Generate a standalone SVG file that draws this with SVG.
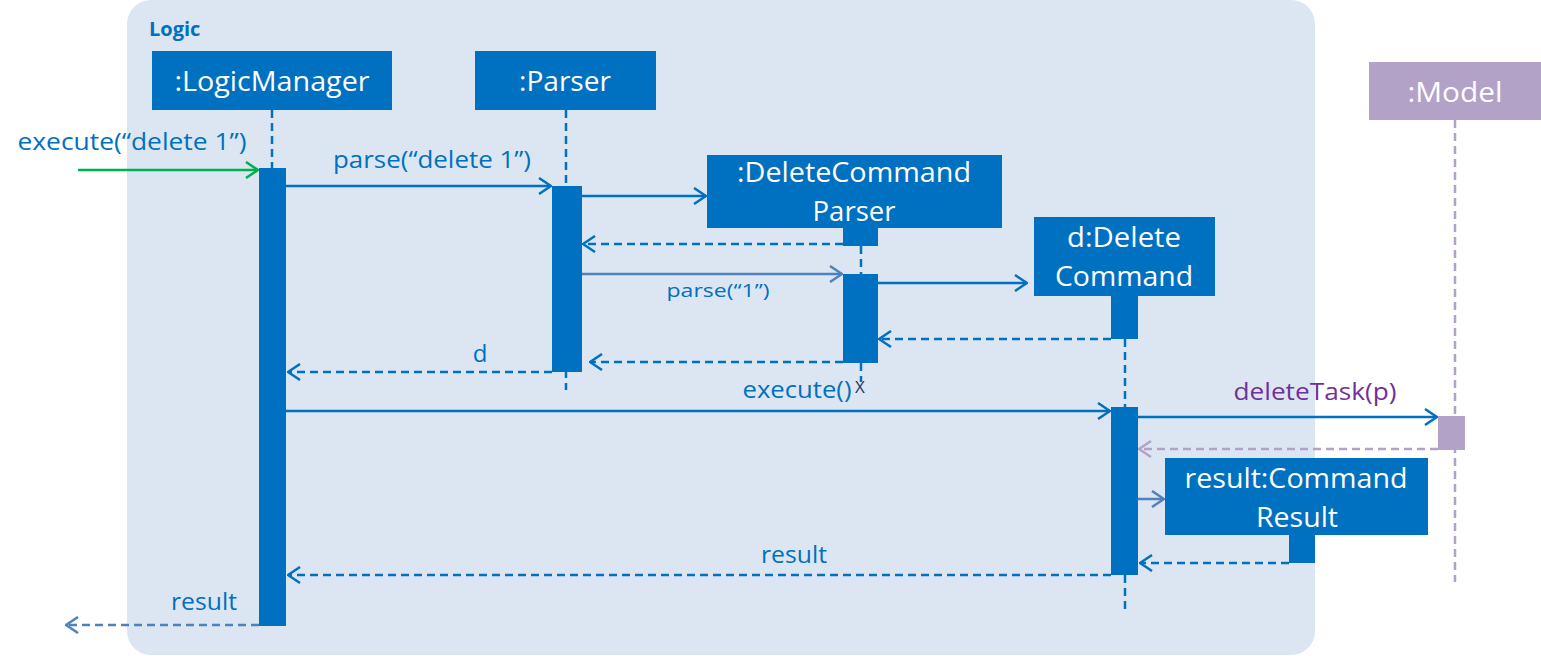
<svg xmlns="http://www.w3.org/2000/svg" width="1541" height="656" viewBox="0 0 1541 656">
<defs>
<style>
.t{font-family:"Open Sans","Noto Sans","Liberation Sans",sans-serif;}
.box{fill:#0070c0;}
.btxt{fill:#ffffff;font-size:28px;text-anchor:middle;}
.lbl{fill:#0070c0;font-size:24px;text-anchor:middle;}
.life{stroke:#0070c0;stroke-width:2.5;stroke-dasharray:8 5;fill:none;}
.msg{stroke:#0070c0;stroke-width:2.5;fill:none;}
.ret{stroke:#0070c0;stroke-width:2.5;stroke-dasharray:8 5;fill:none;}
.act{fill:#0070c0;}
</style>
<marker id="ah" viewBox="0 0 14 18" refX="13" refY="9" markerWidth="14" markerHeight="18" markerUnits="userSpaceOnUse" orient="auto">
<path d="M1,1 L13,9 L1,17" fill="none" stroke="#0070c0" stroke-width="2.5"/>
</marker>
<marker id="ahg" viewBox="0 0 14 18" refX="13" refY="9" markerWidth="14" markerHeight="18" markerUnits="userSpaceOnUse" orient="auto">
<path d="M1,1 L13,9 L1,17" fill="none" stroke="#00b050" stroke-width="2.5"/>
</marker>
<marker id="ahs" viewBox="0 0 14 18" refX="13" refY="9" markerWidth="14" markerHeight="18" markerUnits="userSpaceOnUse" orient="auto">
<path d="M1,1 L13,9 L1,17" fill="none" stroke="#4f81bd" stroke-width="2.5"/>
</marker>
<marker id="ahp" viewBox="0 0 14 18" refX="13" refY="9" markerWidth="14" markerHeight="18" markerUnits="userSpaceOnUse" orient="auto">
<path d="M1,1 L13,9 L1,17" fill="none" stroke="#b3a2c7" stroke-width="2.5"/>
</marker>
</defs>
<rect width="1541" height="656" fill="#ffffff"/>
<g id="logic-frame">
<rect x="127" y="0" width="1188" height="655" rx="24" fill="#dce6f2"/>
<text class="t" x="149" y="36" font-size="20" font-weight="bold" fill="#0070c0">Logic</text>
</g>
<g id="lifelines">
<line class="life" x1="272" y1="110" x2="272" y2="168"/>
<line class="life" x1="566" y1="110" x2="566" y2="390"/>
<line class="life" x1="861" y1="246" x2="861" y2="274"/>
<line class="life" x1="861" y1="363" x2="861" y2="382"/>
<line class="life" x1="1125" y1="339" x2="1125" y2="407"/>
<line class="life" x1="1125" y1="575" x2="1125" y2="614"/>
<line x1="1455" y1="120" x2="1455" y2="582" stroke="#b3a2c7" stroke-width="2.5" stroke-dasharray="8 5"/>
</g>
<g id="logicmanager">
<rect class="box" x="152" y="51" width="240" height="59"/>
<text class="t btxt" x="272" y="91" textLength="195" lengthAdjust="spacingAndGlyphs">:LogicManager</text>
<rect class="act" x="259" y="168" width="27" height="458"/>
</g>
<g id="parser">
<rect class="box" x="475" y="51" width="181" height="59"/>
<text class="t btxt" x="565" y="91" textLength="92" lengthAdjust="spacingAndGlyphs">:Parser</text>
<rect class="act" x="552" y="186" width="30" height="186"/>
</g>
<g id="deletecommandparser">
<rect class="box" x="707" y="155" width="295" height="73"/>
<text class="t btxt" x="854" y="182" textLength="234" lengthAdjust="spacingAndGlyphs">:DeleteCommand</text>
<text class="t btxt" x="854" y="221" textLength="83" lengthAdjust="spacingAndGlyphs">Parser</text>
<rect class="act" x="843" y="228" width="35" height="18"/>
<rect class="act" x="843" y="274" width="35" height="89"/>
<text class="t" x="860" y="393" font-size="17" fill="#1f3864" text-anchor="middle">X</text>
</g>
<g id="deletecommand">
<rect class="box" x="1034" y="217" width="181" height="79"/>
<text class="t btxt" x="1124" y="247" textLength="114" lengthAdjust="spacingAndGlyphs">d:Delete</text>
<text class="t btxt" x="1124" y="286" textLength="138" lengthAdjust="spacingAndGlyphs">Command</text>
<rect class="act" x="1111" y="296" width="27" height="43"/>
<rect class="act" x="1111" y="407" width="27" height="168"/>
</g>
<g id="model">
<rect x="1369" y="62" width="172" height="58" fill="#b3a2c7"/>
<text class="t btxt" x="1455" y="102" textLength="95" lengthAdjust="spacingAndGlyphs">:Model</text>
<rect x="1438" y="416" width="27" height="34" fill="#b3a2c7"/>
</g>
<g id="commandresult">
<rect class="box" x="1165" y="458" width="263" height="77"/>
<text class="t btxt" x="1296" y="488" textLength="223" lengthAdjust="spacingAndGlyphs">result:Command</text>
<text class="t btxt" x="1297" y="527" textLength="82" lengthAdjust="spacingAndGlyphs">Result</text>
<rect class="act" x="1289" y="535" width="26" height="28"/>
</g>
<g id="connectors">
<line x1="78" y1="170" x2="258" y2="170" stroke="#00b050" stroke-width="2.5" marker-end="url(#ahg)"/>
<text class="t lbl" x="132" y="150" textLength="229" lengthAdjust="spacingAndGlyphs">execute(“delete 1”)</text>
<line class="msg" x1="286" y1="186" x2="551" y2="186" marker-end="url(#ah)"/>
<text class="t lbl" x="432" y="168" textLength="198" lengthAdjust="spacingAndGlyphs">parse(“delete 1”)</text>
<line class="msg" x1="582" y1="196" x2="706" y2="196" marker-end="url(#ah)"/>
<line class="ret" x1="843" y1="244" x2="583" y2="244" marker-end="url(#ah)"/>
<line x1="582" y1="274" x2="842" y2="274" stroke="#4f81bd" stroke-width="2.5" marker-end="url(#ahs)"/>
<text class="t" x="718" y="297" font-size="19" fill="#0070c0" text-anchor="middle" textLength="103" lengthAdjust="spacingAndGlyphs">parse(“1”)</text>
<line class="msg" x1="878" y1="283" x2="1027" y2="283" marker-end="url(#ah)"/>
<line class="ret" x1="1111" y1="339" x2="879" y2="339" marker-end="url(#ah)"/>
<line class="ret" x1="843" y1="362" x2="590" y2="362" marker-end="url(#ah)"/>
<line class="ret" x1="552" y1="372" x2="288" y2="372" marker-end="url(#ah)"/>
<text class="t lbl" x="480" y="362">d</text>
<line class="msg" x1="286" y1="411" x2="1110" y2="411" marker-end="url(#ah)"/>
<text class="t lbl" x="797" y="398" textLength="109" lengthAdjust="spacingAndGlyphs">execute()</text>
<line class="msg" x1="1138" y1="417" x2="1437" y2="417" marker-end="url(#ah)"/>
<text class="t" x="1315" y="400" font-size="24" fill="#7030a0" text-anchor="middle" textLength="163" lengthAdjust="spacingAndGlyphs">deleteTask(p)</text>
<line x1="1438" y1="449" x2="1139" y2="449" stroke="#b3a2c7" stroke-width="2.5" stroke-dasharray="8 5" marker-end="url(#ahp)"/>
<line x1="1138" y1="499" x2="1164" y2="499" stroke="#4f81bd" stroke-width="2.5" marker-end="url(#ahs)"/>
<line class="ret" x1="1289" y1="563" x2="1140" y2="563" marker-end="url(#ah)"/>
<line class="ret" x1="1111" y1="575" x2="288" y2="575" marker-end="url(#ah)"/>
<text class="t lbl" x="794" y="563" textLength="66" lengthAdjust="spacingAndGlyphs">result</text>
<line x1="259" y1="625" x2="66" y2="625" stroke="#4f81bd" stroke-width="2.5" stroke-dasharray="8 5" marker-end="url(#ahs)"/>
<text class="t" x="204" y="610" font-size="24" fill="#0070c0" text-anchor="middle" textLength="66" lengthAdjust="spacingAndGlyphs">result</text>
</g>
</svg>
